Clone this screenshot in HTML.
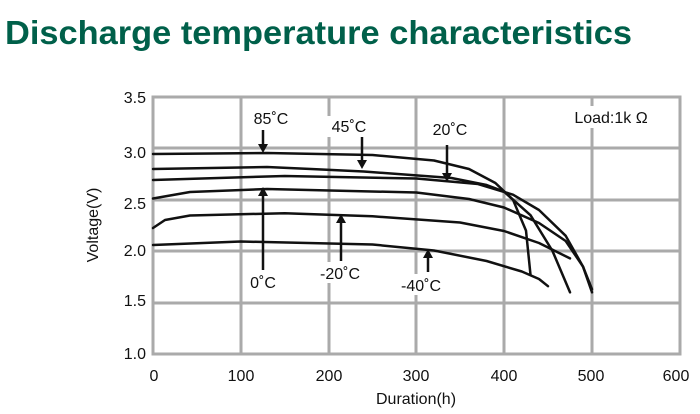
<!DOCTYPE html>
<html><head><meta charset="utf-8"><style>
html,body{margin:0;padding:0;background:#fff;width:700px;height:414px;overflow:hidden}
svg{display:block}
</style></head><body>
<svg width="700" height="414" viewBox="0 0 700 414" xmlns="http://www.w3.org/2000/svg">
<text x="5" y="44" font-family="Liberation Sans, sans-serif" font-weight="bold" font-size="33" fill="#00604a" textLength="627" lengthAdjust="spacingAndGlyphs">Discharge temperature characteristics</text>
<g stroke="#aaa" stroke-width="3" fill="none">
<rect x="153" y="97" width="527" height="257"/>
<line x1="241" y1="97" x2="241" y2="354"/><line x1="329" y1="97" x2="329" y2="354"/>
<line x1="416" y1="97" x2="416" y2="354"/><line x1="504" y1="97" x2="504" y2="354"/>
<line x1="592" y1="97" x2="592" y2="354"/>
<line x1="153" y1="148" x2="680" y2="148"/><line x1="153" y1="200" x2="680" y2="200"/>
<line x1="153" y1="251" x2="680" y2="251"/><line x1="153" y1="303" x2="680" y2="303"/>
</g>
<g font-family="Liberation Sans, sans-serif" font-size="16" fill="#111">
<g text-anchor="end"><text x="146" y="103">3.5</text><text x="146" y="158">3.0</text><text x="146" y="209">2.5</text><text x="146" y="256">2.0</text><text x="146" y="306">1.5</text><text x="146" y="359">1.0</text></g>
<g text-anchor="middle"><text x="154" y="381">0</text><text x="241" y="381">100</text><text x="329" y="381">200</text><text x="416" y="381">300</text><text x="504" y="381">400</text><text x="591" y="381">500</text><text x="676" y="381">600</text>
<text x="416" y="404">Duration(h)</text></g>
<text transform="translate(98,225) rotate(-90)" text-anchor="middle">Voltage(V)</text>
</g>
<g fill="none" stroke="#111" stroke-width="2.5" stroke-linejoin="round" stroke-linecap="round">
<polyline points="153,154 267,153 372.5,155 434,160.5 469,169 495.4,183 513,199.8 526,230.6 530.5,274.8"/>
<polyline points="153,169 267,167 311,169 363.7,171.5 451.5,178 486.6,185 504,191.6 530.5,215.2 552.5,251 570,292.3"/>
<polyline points="153,180 284.7,176 416.4,178.5 478,184 513,194.7 539,210 565.7,235.8 583,266.6 592,292.3"/>
<polyline points="153,198.5 190,192 267,189 416.4,192.5 469,199 504,207.5 539,223 565.7,241 583,266.6 592,289.2"/>
<polyline points="153,228 165,220 190,215.5 284.7,213.2 372.5,216.3 460,222.5 504,231 539,243 570,258.4"/>
<polyline points="153,245 240.8,241.5 372.5,244.5 434,250.5 486.6,261 521.8,271.5 539,279 548,286.2"/>
</g>
<g stroke="#111" stroke-width="2.5">
<line x1="263" y1="130" x2="263" y2="146"/><line x1="362" y1="137" x2="362" y2="162"/><line x1="447" y1="145" x2="447" y2="175"/>
<line x1="263" y1="270" x2="263" y2="194"/><line x1="341" y1="261" x2="341" y2="221"/><line x1="428" y1="272" x2="428" y2="256"/>
</g>
<g fill="#111">
<polygon points="258,144 268,144 263,153"/><polygon points="357,160 367,160 362,169"/><polygon points="442,173 452,173 447,182"/>
<polygon points="258,196 268,196 263,187"/><polygon points="336,223 346,223 341,214"/><polygon points="423,258 433,258 428,249"/>
</g>
<g font-family="Liberation Sans, sans-serif" font-size="16" fill="#111" text-anchor="middle">
<rect x="247" y="108" width="48" height="21" fill="#fff"/><text x="271" y="124">85˚C</text>
<rect x="325" y="116" width="48" height="21" fill="#fff"/><text x="349" y="132">45˚C</text>
<rect x="426" y="119" width="48" height="21" fill="#fff"/><text x="450" y="135">20˚C</text>
<rect x="243" y="271" width="40" height="21" fill="#fff"/><text x="263" y="288">0˚C</text>
<rect x="314" y="262" width="52" height="21" fill="#fff"/><text x="340" y="279">-20˚C</text>
<rect x="395" y="274" width="52" height="21" fill="#fff"/><text x="421" y="291">-40˚C</text>
<rect x="564" y="106" width="100" height="22" fill="#fff"/><text x="611" y="123">Load:1k Ω</text>
</g>
</svg>
</body></html>
